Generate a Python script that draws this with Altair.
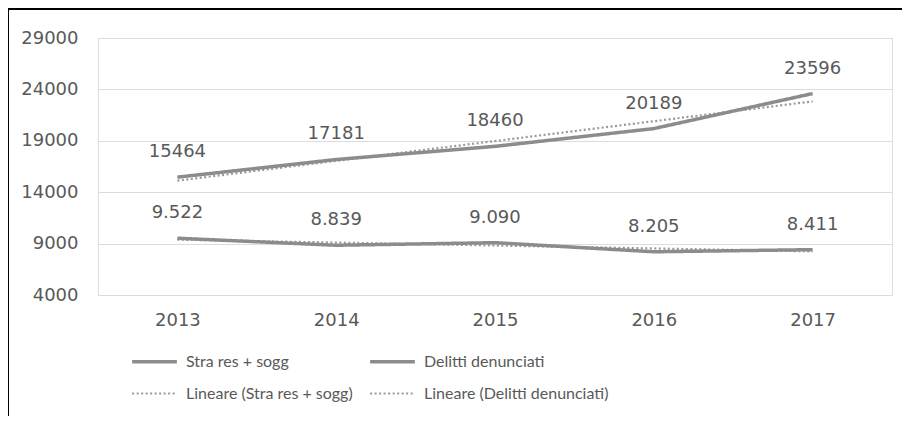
import altair as alt
import pandas as pd

years = [2013, 2014, 2015, 2016, 2017]
stra_values = [15464, 17181, 18460, 20189, 23596]
stra_labels = ["15464", "17181", "18460", "20189", "23596"]
delitti_values = [9522, 8839, 9090, 8205, 8411]
delitti_labels = ["9.522", "8.839", "9.090", "8.205", "8.411"]
series_names = ["Stra res + sogg", "Delitti denunciati"]
# legend entries in column-major order (Vega fills the grid column by column)
legend_names = ["Stra res + sogg", "Lineare (Stra res + sogg)",
                "Delitti denunciati", "Lineare (Delitti denunciati)"]
y_ticks = [4000, 9000, 14000, 19000, 24000, 29000]

rows = []
for y, v, l in zip(years, stra_values, stra_labels):
    rows.append({"year": y, "value": v, "label": l, "series": series_names[0]})
for y, v, l in zip(years, delitti_values, delitti_labels):
    rows.append({"year": y, "value": v, "label": l, "series": series_names[1]})
df = pd.DataFrame(rows)

LINE = "#8c8c8c"
TREND = "#999999"
TXT = "#595959"
NUMFONT = "DejaVu Sans"

scale_color = alt.Scale(domain=legend_names, range=[LINE, TREND, LINE, TREND])
scale_dash = alt.Scale(domain=legend_names, range=[[1, 0], [2, 2.5], [1, 0], [2, 2.5]])
scale_width = alt.Scale(type="ordinal", domain=legend_names, range=[3.5, 2.2, 3.5, 2.2])

legend = alt.Legend(
    title=None, orient="none", legendX=32, legendY=299, columns=2,
    symbolType="stroke", symbolSize=2000, labelFontSize=16, labelFont="Lato",
    labelColor=TXT, labelOffset=7, columnPadding=10, rowPadding=-8,
    labelLimit=400,
)

x = alt.X("year:Q", scale=alt.Scale(domain=[2012.5, 2017.5], nice=False),
          axis=alt.Axis(values=years, format="d", title=None, grid=False, domain=False,
                        ticks=False, labelFontSize=18, labelFont=NUMFONT,
                        labelColor=TXT, labelPadding=16))
y = alt.Y("value:Q", scale=alt.Scale(domain=[4000, 29000], nice=False),
          axis=alt.Axis(values=y_ticks, title=None, format="d", grid=True, gridColor="#dcdcdc",
                        domain=False, ticks=False, labelFontSize=18, labelFont=NUMFONT,
                        labelColor=TXT, labelPadding=20))

base = alt.Chart(df)

enc = dict(
    color=alt.Color("name:N", scale=scale_color, legend=legend),
    strokeDash=alt.StrokeDash("name:N", scale=scale_dash, legend=legend),
    strokeWidth=alt.StrokeWidth("name:N", scale=scale_width, legend=legend),
)

trend = base.transform_regression("year", "value", groupby=["series"]).transform_calculate(
    name="'Lineare (' + datum.series + ')'"
).mark_line().encode(x=x, y=y, **enc)

lines = base.transform_calculate(name="datum.series").mark_line().encode(
    x=x, y=y, detail="series:N", **enc
)

labels = base.mark_text(dy=-25, fontSize=18, font=NUMFONT, color=TXT).encode(
    x=x, y=y, text="label:N"
)

frame_left = alt.Chart(df).mark_rule(color="black", strokeWidth=2).encode(
    x=alt.value(-90), y=alt.value(-30), y2=alt.value(420)
)
frame_top = alt.Chart(df).mark_rule(color="black", strokeWidth=2).encode(
    x=alt.value(-90), x2=alt.value(820), y=alt.value(-29)
)

chart = alt.layer(trend, lines, labels, frame_left, frame_top).properties(
    width=794, height=257,
    autosize=alt.AutoSizeParams(type="none"),
    padding={"left": 90, "top": 30, "right": 10, "bottom": 121},
).configure_view(stroke=None).configure(background="white")

chart.save("out.html", embed_options={"renderer": "svg", "actions": False})
